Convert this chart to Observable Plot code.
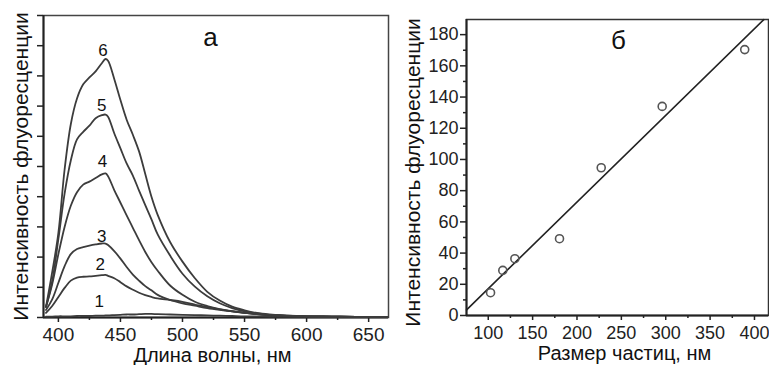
<!DOCTYPE html>
<html><head><meta charset="utf-8">
<script src="https://cdn.jsdelivr.net/npm/d3@7"></script>
<script src="https://cdn.jsdelivr.net/npm/@observablehq/plot@0.6"></script>
<style>
body{margin:0;background:#fff;}
#wrap{position:relative;width:769px;height:365px;overflow:hidden;}
#a{position:absolute;left:0;top:0;}
#b{position:absolute;left:390px;top:0;}
</style>
</head><body>
<div id="wrap"><div id="a"></div><div id="b"></div></div>
<script>
// Panel а: fluorescence spectra
const wavelength = [390,395,400,405,410,415,420,425,430,435,438,440,445,450,455,460,465,470,475,480,490,500,510,520,530,540,550,560,570,580,600,620,640,665];
const curve1 = [0.03,0.03,0.04,0.04,0.04,0.05,0.05,0.05,0.06,0.06,0.07,0.07,0.08,0.09,0.1,0.1,0.11,0.12,0.12,0.11,0.1,0.09,0.08,0.07,0.06,0.05,0.04,0.04,0.03,0.03,0.02,0.02,0.02,0.02];
const curve2 = [0.15,0.38,0.68,0.98,1.22,1.32,1.35,1.36,1.38,1.4,1.41,1.38,1.3,1.17,1.03,0.92,0.82,0.74,0.68,0.63,0.58,0.52,0.43,0.34,0.27,0.2,0.15,0.11,0.08,0.06,0.04,0.03,0.02,0.02];
const curve3 = [0.25,0.6,1.15,1.7,2.1,2.27,2.33,2.38,2.42,2.45,2.45,2.4,2.2,1.95,1.67,1.42,1.22,1.04,0.9,0.75,0.58,0.47,0.39,0.31,0.25,0.2,0.15,0.11,0.08,0.06,0.04,0.03,0.02,0.02];
const curve4 = [0.35,1.1,2.1,3.0,3.7,4.15,4.4,4.5,4.62,4.74,4.77,4.68,4.22,3.8,3.38,2.97,2.56,2.17,1.83,1.55,1.06,0.75,0.52,0.38,0.28,0.21,0.15,0.11,0.08,0.06,0.04,0.03,0.02,0.02];
const curve5 = [0.35,1.2,2.6,4.1,5.2,5.9,6.15,6.35,6.6,6.7,6.72,6.65,6.1,5.6,5.1,4.7,4.2,3.72,3.25,2.75,2.05,1.45,1.02,0.7,0.47,0.31,0.2,0.13,0.09,0.07,0.04,0.03,0.02,0.02];
const curve6 = [0.35,1.5,2.8,4.9,6.4,7.25,7.72,7.95,8.15,8.42,8.56,8.5,7.9,7.2,6.55,6.05,5.5,4.75,4.0,3.4,2.5,1.85,1.3,0.85,0.56,0.36,0.24,0.15,0.1,0.07,0.04,0.03,0.02,0.02];
const curveNames = ["1","2","3","4","5","6"];
const curveLabelX = [432.9,433.7,435,435.6,435,435.9];
const curveLabelY = [0.54,1.74,2.67,5.16,7.03,8.85];
const xTicksA = [400,450,500,550,600,650];
const xMinorA = [425,475,525,575,625];
const yTicksA = [0,1,2,3,4,5,6,7,8,9,10];

// Panel б: intensity vs particle size
const sizeNm = [102.6,116.4,130,180.3,227.3,296,389];
const intensity = [14.6,28.9,36.4,49.2,94.7,134,170.4];
const fitX = [75.6,410.5];
const fitY = [3.6,189.6];
const xTicksB = [100,150,200,250,300,350,400];
const xMinorB = [125,175,225,275,325,375];
const yTicksB = [0,20,40,60,80,100,120,140,160,180];
const yMinorB = [10,30,50,70,90,110,130,150,170];

const yTitle = "Интенсивность флуоресценции";
const xTitleA = "Длина волны, нм";
const xTitleB = "Размер частиц, нм";

const font = "'Liberation Sans', Arial, sans-serif";
const ink = "#222";
const lineInk = "#3c3c3c";

const curves = [curve1,curve2,curve3,curve4,curve5,curve6];
const spectra = curves.flatMap((c,k) => c.map((v,i) => ({name: curveNames[k], x: wavelength[i], y: v})));
const curveLabels = curveNames.map((n,i) => ({name: n, x: curveLabelX[i], y: curveLabelY[i]}));

const titleOpts = {textAnchor: "middle", lineAnchor: "middle", fill: "#111"};

const plotA = Plot.plot({
  width: 390, height: 365,
  marginLeft: 43, marginRight: 2, marginTop: 15, marginBottom: 48,
  style: {fontFamily: font, fontSize: "17px", color: ink, background: "transparent"},
  x: {domain: [388, 666]},
  y: {domain: [0, 10]},
  marks: [
    Plot.frame({stroke: "#444", strokeWidth: 1.5}),
    Plot.axisX({ticks: xTicksA, tickSize: 5, tickPadding: 5, fontSize: 19, stroke: ink, strokeWidth: 1.5, label: null}),
    Plot.axisX({ticks: xMinorA, tickSize: 3, tickFormat: () => "", label: null, stroke: ink, strokeWidth: 1.5}),
    Plot.axisY({ticks: yTicksA, tickSize: 6, tickFormat: () => "", stroke: ink, strokeWidth: 1.5, label: null}),
    Plot.ruleX([388], {stroke: ink, strokeWidth: 2}),
    Plot.ruleY([0], {stroke: ink, strokeWidth: 2}),
    Plot.line(spectra, {x: "x", y: "y", z: "name", stroke: lineInk, strokeWidth: 1.8, curve: "catmull-rom"}),
    Plot.text(curveLabels, {x: "x", y: "y", text: "name", fontSize: 17, fill: "#111"}),
    Plot.text(["а"], {x: [522.6], y: [9.27], fontSize: 26, fill: "#111"}),
    Plot.text([xTitleA], {...titleOpts, frameAnchor: "bottom", dx: -3.5, dy: 37.6, fontSize: 20}),
    Plot.text([yTitle], {...titleOpts, frameAnchor: "left", rotate: -90, dx: -22, dy: 0, fontSize: 21})
  ]
});
document.getElementById("a").appendChild(plotA);

const pts = sizeNm.map((s,i) => ({x: s, y: intensity[i]}));
const fit = fitX.map((x,i) => ({x, y: fitY[i]}));

const plotB = Plot.plot({
  width: 379, height: 365,
  marginLeft: 76, marginRight: 1, marginTop: 19, marginBottom: 50,
  style: {fontFamily: font, fontSize: "17px", color: ink, background: "transparent"},
  x: {domain: [75.5, 415.8]},
  y: {domain: [0, 189.7]},
  marks: [
    Plot.frame({stroke: "#333", strokeWidth: 1.5}),
    Plot.axisX({ticks: xTicksB, tickSize: 5, tickPadding: 6, fontSize: 18, stroke: ink, strokeWidth: 1.5, label: null}),
    Plot.axisX({ticks: xMinorB, tickSize: 3, tickFormat: () => "", label: null, stroke: ink, strokeWidth: 1.5}),
    Plot.axisY({ticks: yTicksB, tickSize: 6, tickPadding: 2, fontSize: 18, stroke: ink, strokeWidth: 1.5, label: null}),
    Plot.axisY({ticks: yMinorB, tickSize: 3, tickFormat: () => "", label: null, stroke: ink, strokeWidth: 1.5}),
    Plot.ruleX([75.5], {stroke: ink, strokeWidth: 2}),
    Plot.ruleY([0], {stroke: ink, strokeWidth: 2}),
    Plot.line(fit, {x: "x", y: "y", stroke: "#222", strokeWidth: 1.6}),
    Plot.dot(pts, {x: "x", y: "y", r: 4, stroke: "#555", strokeWidth: 1.6, fill: "none"}),
    Plot.text(["б"], {x: [246.7], y: [176.2], fontSize: 26, fill: "#111"}),
    Plot.text([xTitleB], {...titleOpts, frameAnchor: "bottom", dx: 7, dy: 38.5, fontSize: 20}),
    Plot.text([yTitle], {...titleOpts, frameAnchor: "left", rotate: -90, dx: -53, dy: 5, fontSize: 21})
  ]
});
document.getElementById("b").appendChild(plotB);
</script>
</body></html>
